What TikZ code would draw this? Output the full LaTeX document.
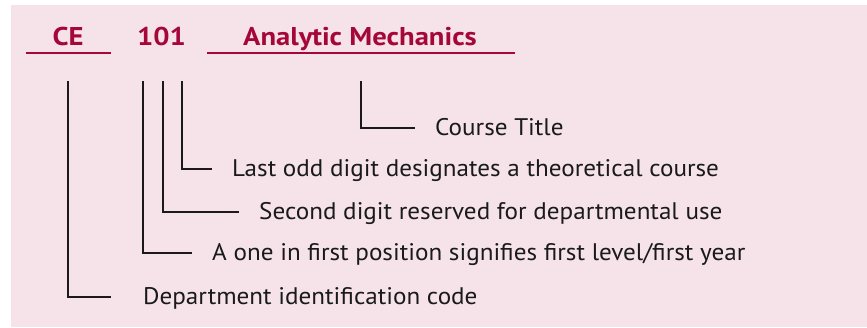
\documentclass[tikz,border=0pt]{standalone}
\usepackage{fontspec}
\setmainfont{PT Sans}
\newfontfamily\hdrfont[FakeStretch=1.115]{PT Sans}
\newfontfamily\lblfont[FakeStretch=1.047]{PT Sans}
\definecolor{bgpink}{HTML}{F5E3E9}
\definecolor{crimson}{HTML}{A6073A}
\definecolor{ink}{HTML}{1A1A1A}
\begin{document}
\begin{tikzpicture}[x=1pt,y=-1pt,
  hdr/.style={font=\hdrfont\fontsize{25.7}{28}\selectfont\bfseries, text=crimson, inner sep=0pt, anchor=base},
  lbl/.style={font=\lblfont\fontsize{24}{28}\selectfont, text=ink, inner sep=0pt, anchor=base west},
  uline/.style={draw=crimson, line width=1.3pt},
  lead/.style={draw=ink, line width=1.6pt}]
\useasboundingbox (0,0) rectangle (867,327);
\fill[bgpink] (11,5) rectangle (867,327);
% header
\node[hdr] (ce) at (68,45) {CE};
\node[hdr] (num) at (161.5,45) {101};
\node[hdr] (title) at (360,45) {Analytic Mechanics};
\coordinate (ceL) at (26,53); \coordinate (ceR) at (111,53);
\coordinate (tL) at (207,53); \coordinate (tR) at (515,53);
\draw[uline] (ceL) -- (ceR);
\draw[uline] (tL) -- (tR);
% labels (baselines)
\node[lbl] (lct) at (435,135) {Course Title};
\node[lbl] (lodd) at (232,176) {Last odd digit designates a theoretical course};
\node[lbl] (lsec) at (259,219) {Second digit reserved for departmental use};
\node[lbl] (lone) at (212,260) {A one in first position signifies first level/first year};
\node[lbl] (ldep) at (143,304) {Department identification code};
% leader tops
\coordinate (p0) at (68,81);
\coordinate (p1) at (143,81);
\coordinate (p2) at (163,81);
\coordinate (p3) at (182,81);
\coordinate (p4) at (361,81);
\draw[lead] (p0) |- ([xshift=-32pt,yshift=7pt]ldep.base west);
\draw[lead] (p1) |- ([xshift=-20pt,yshift=7pt]lone.base west);
\draw[lead] (p2) |- ([xshift=-20pt,yshift=7pt]lsec.base west);
\draw[lead] (p3) |- ([xshift=-20pt,yshift=7pt]lodd.base west);
\draw[lead] (p4) |- ([xshift=-20pt,yshift=7pt]lct.base west);
\end{tikzpicture}
\end{document}
